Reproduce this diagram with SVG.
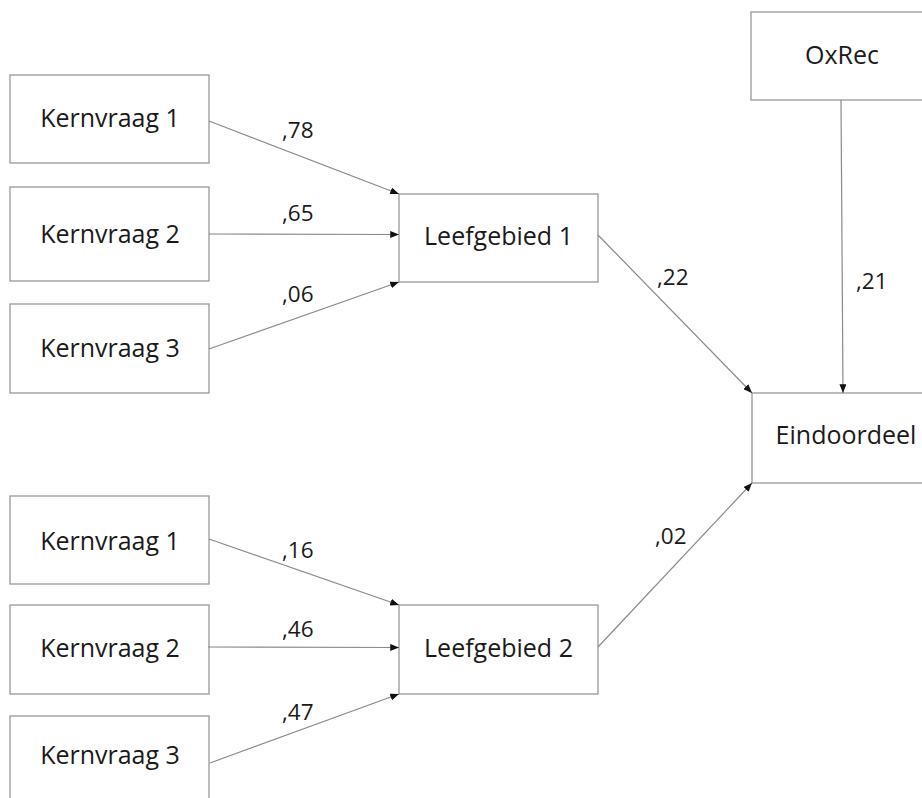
<svg xmlns="http://www.w3.org/2000/svg" width="922" height="798" viewBox="0 0 922 798">
<style>
.box{fill:#fff;stroke:#999;stroke-width:1.3}
.lbl{font-family:"Open Sans",sans-serif;font-size:25px;fill:#1a1a1a;text-anchor:middle}
.w{font-family:"Open Sans",sans-serif;font-size:22.5px;fill:#1a1a1a}
.c{stroke:#8a8a8a;stroke-width:1.2;fill:none;marker-end:url(#ah)}
</style>
<defs>
<marker id="ah" viewBox="0 0 10 8" refX="10" refY="4" markerWidth="9" markerHeight="7" markerUnits="userSpaceOnUse" orient="auto">
<path d="M0,0 L10,4 L0,8 z" fill="#111"/>
</marker>
</defs>
<rect width="922" height="798" fill="#fff"/>
<g id="k1a"><rect class="box" x="10" y="75" width="199" height="88"/><text class="lbl" x="110" y="127">Kernvraag 1</text></g>
<g id="k2a"><rect class="box" x="10" y="187" width="199" height="94"/><text class="lbl" x="110" y="243">Kernvraag 2</text></g>
<g id="k3a"><rect class="box" x="10" y="304" width="199" height="89"/><text class="lbl" x="110" y="357">Kernvraag 3</text></g>
<g id="lg1"><rect class="box" x="399" y="194" width="199" height="88"/><text class="lbl" x="498.5" y="245">Leefgebied 1</text></g>
<g id="oxrec"><rect class="box" x="751" y="12" width="200" height="88"/><text class="lbl" x="842" y="64">OxRec</text></g>
<g id="eind"><rect class="box" x="752" y="393" width="200" height="90"/><text class="lbl" x="846" y="444">Eindoordeel</text></g>
<g id="k1b"><rect class="box" x="10" y="496" width="199" height="88"/><text class="lbl" x="110" y="550">Kernvraag 1</text></g>
<g id="k2b"><rect class="box" x="10" y="605" width="199" height="89"/><text class="lbl" x="110" y="657">Kernvraag 2</text></g>
<g id="k3b"><rect class="box" x="10" y="716" width="199" height="100"/><text class="lbl" x="110" y="764">Kernvraag 3</text></g>
<g id="lg2"><rect class="box" x="399" y="605" width="199" height="89"/><text class="lbl" x="498.5" y="657">Leefgebied 2</text></g>
<g id="connectors">
<line class="c" x1="209" y1="121" x2="399" y2="194"/>
<line class="c" x1="209" y1="234" x2="399" y2="234.5"/>
<line class="c" x1="209" y1="349" x2="399" y2="282"/>
<line class="c" x1="598" y1="235" x2="752" y2="393"/>
<line class="c" x1="841" y1="100" x2="843" y2="393"/>
<line class="c" x1="598" y1="647" x2="752" y2="483"/>
<line class="c" x1="209" y1="539" x2="399" y2="605"/>
<line class="c" x1="208" y1="647" x2="399" y2="647.5"/>
<line class="c" x1="210" y1="763" x2="399" y2="694"/>
<text class="w" x="282" y="138">,78</text>
<text class="w" x="282" y="221">,65</text>
<text class="w" x="282" y="302">,06</text>
<text class="w" x="657" y="285">,22</text>
<text class="w" x="856" y="289">,21</text>
<text class="w" x="655" y="544">,02</text>
<text class="w" x="282" y="558">,16</text>
<text class="w" x="282" y="637">,46</text>
<text class="w" x="282" y="720">,47</text>
</g>
</svg>
